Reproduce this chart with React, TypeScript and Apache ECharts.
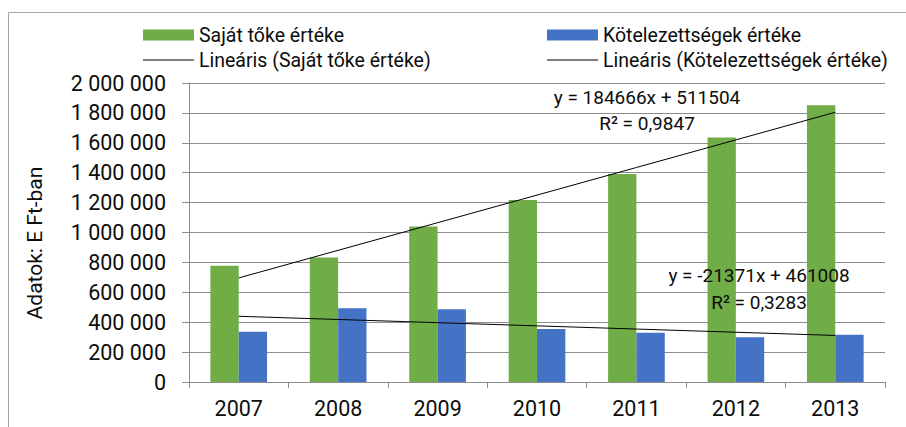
import React, { useEffect, useRef } from "react";
import * as echarts from "echarts";

const categories = ["2007", "2008", "2009", "2010", "2011", "2012", "2013"];
const sajatToke = [777000, 833000, 1040000, 1217000, 1391000, 1636000, 1852000];
const kotelezettseg = [336000, 494000, 487000, 354000, 329000, 300000, 316000];
// trend line values (y = 184666x + 511504 and y = -21371x + 461008 at x = 1..7)
const trendSajat = [696170, 880836, 1065502, 1250168, 1434834, 1619500, 1804166];
const trendKotel = [439637, 418266, 396895, 375524, 354153, 332782, 311411];
const eqSajat = ["y = 184666x + 511504", "R² = 0,9847"];
const eqKotel = ["y = -21371x + 461008", "R² = 0,3283"];

const FONT = "Roboto";
const TXT = "#0d0d0d";
const GRID = "#8c8c8c";

const fmt = (v: number) => String(v).replace(/\B(?=(\d{3})+(?!\d))/g, " ");

export default function App() {
  const ref = useRef<HTMLDivElement>(null);
  useEffect(() => {
    const chart = echarts.init(ref.current!, undefined, { renderer: "svg" });
    const legendBase = {
      padding: 0,
      itemWidth: 51,
      textStyle: { fontFamily: FONT, fontSize: 19.5, color: TXT, lineHeight: 19 },
      selectedMode: false,
    };
    const eqText = (text: string, x: number, y: number) => ({
      type: "text",
      x,
      y,
      z: 100,
      zlevel: 0,
      silent: true,
      style: { text, fontFamily: FONT, fontSize: 19, fill: TXT, align: "center", verticalAlign: "middle" },
    });
    chart.setOption({
      animation: false,
      textStyle: { fontFamily: FONT },
      legend: [
        { ...legendBase, left: 143, top: 25, itemHeight: 11, icon: "rect", data: ["Saját tőke értéke"] },
        { ...legendBase, left: 547, top: 25, itemHeight: 11, icon: "rect", data: ["Kötelezettségek értéke"] },
        { ...legendBase, left: 143, top: 50, itemHeight: 1, icon: "rect", data: ["Lineáris (Saját tőke értéke)"] },
        { ...legendBase, left: 547, top: 50, itemHeight: 1, icon: "rect", data: ["Lineáris (Kötelezettségek értéke)"] },
      ],
      grid: { left: 189, top: 83, right: 21, bottom: 45 },
      xAxis: {
        type: "category",
        data: categories,
        boundaryGap: true,
        axisLine: { lineStyle: { color: GRID, width: 1 } },
        axisTick: { show: true, length: 6, lineStyle: { color: GRID } },
        axisLabel: { fontFamily: FONT, fontSize: 21.5, color: TXT, margin: 15 },
      },
      yAxis: {
        type: "value",
        min: 0,
        max: 2000000,
        interval: 200000,
        axisLine: { show: true, lineStyle: { color: GRID, width: 1 } },
        axisTick: { show: true, length: 7, lineStyle: { color: GRID } },
        splitLine: { lineStyle: { color: GRID, width: 1 } },
        axisLabel: { fontFamily: FONT, fontSize: 21.5, color: TXT, margin: 23, formatter: fmt },
      },
      graphic: [
        {
          type: "rect",
          shape: { x: 8.5, y: 12.5, width: 1000, height: 600 },
          style: { fill: "none", stroke: "#a6a6a6", lineWidth: 1 },
          silent: true,
        },
        {
          type: "text",
          x: 35,
          y: 243,
          rotation: Math.PI / 2,
          style: { text: "Adatok: E Ft-ban", fontFamily: FONT, fontSize: 21, fill: TXT, align: "center", verticalAlign: "middle" },
        },
        eqText(eqSajat[0], 647, 97),
        eqText(eqSajat[1], 647, 123),
        eqText(eqKotel[0], 759, 275),
        eqText(eqKotel[1], 759, 302),
      ],
      series: [
        {
          name: "Saját tőke értéke",
          type: "bar",
          data: sajatToke,
          barGap: "0%",
          barCategoryGap: "43%",
          itemStyle: { color: "#70AD47" },
        },
        {
          name: "Kötelezettségek értéke",
          type: "bar",
          data: kotelezettseg,
          barGap: "0%",
          barCategoryGap: "43%",
          itemStyle: { color: "#4472C4" },
        },
        {
          name: "Lineáris (Saját tőke értéke)",
          type: "line",
          data: trendSajat,
          symbol: "none",
          z: 5,
          itemStyle: { color: "#000" },
          lineStyle: { color: "#000", width: 1 },
          silent: true,
        },
        {
          name: "Lineáris (Kötelezettségek értéke)",
          type: "line",
          data: trendKotel,
          symbol: "none",
          z: 5,
          itemStyle: { color: "#000" },
          lineStyle: { color: "#000", width: 1 },
          silent: true,
        },
      ],
    });
    return () => chart.dispose();
  }, []);
  return (
    <div
      ref={ref}
      style={{ position: "fixed", left: 0, top: 0, width: 906, height: 427, background: "#fff" }}
    />
  );
}
